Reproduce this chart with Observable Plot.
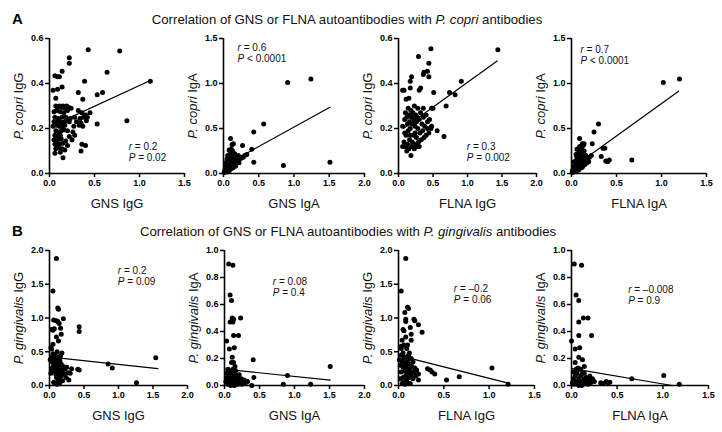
<!DOCTYPE html>
<html><head><meta charset="utf-8">
<script src="https://cdn.jsdelivr.net/npm/d3@7"></script>
<script src="https://cdn.jsdelivr.net/npm/@observablehq/plot@0.6"></script>
<style>
body{margin:0;background:#fff;}
#fig{position:relative;width:722px;height:432px;overflow:hidden;font-family:"Liberation Sans",Arial,sans-serif;color:#111;}
.panel{position:absolute;}
.letter{position:absolute;font-weight:bold;font-size:15px;line-height:16px;color:#000;}
.title{position:absolute;font-size:13.2px;line-height:16px;white-space:nowrap;transform:translateX(-50%);color:#111;}
</style></head><body><div id="fig"></div>
<script>
// ---------- DATA ----------
const titleA = ["Correlation of GNS or FLNA autoantibodies with ", "P. copri", " antibodies"];
const titleB = ["Correlation of GNS or FLNA autoantibodies with ", "P. gingivalis", " antibodies"];

// Panel A1: GNS IgG vs P. copri IgG
const a1_x = [0.43,0.78,0.22,0.22,0.64,1.12,0.39,0.59,0.53,0.32,0.37,0.86,0.53,0.45,0.40,
 0.06,0.09,0.11,0.14,0.04,0.09,0.14,0.07,
 0.07,0.09,0.11,0.13,0.15,0.17,0.19,0.21,0.24,
 0.08,0.12,0.16,0.20,0.32,0.36,0.05,
 0.06,0.10,0.14,0.18,0.23,0.28,0.34,0.38,0.42,
 0.05,0.09,0.12,0.15,0.19,0.22,0.30,0.35,0.41,
 0.04,0.08,0.11,0.14,0.17,0.27,0.33,0.37,
 0.07,0.10,0.13,0.16,0.20,0.26,
 0.06,0.09,0.12,0.22,0.28,
 0.05,0.08,0.10,0.13,0.18,0.25,
 0.06,0.09,0.11,0.15,0.20,0.36,0.40,
 0.07,0.10,0.14,0.17,0.35,
 0.06,0.12,0.15];
const a1_y = [0.55,0.545,0.515,0.49,0.45,0.41,0.41,0.36,0.35,0.36,0.33,0.235,0.22,0.27,0.26,
 0.435,0.43,0.43,0.455,0.37,0.375,0.385,0.335,
 0.30,0.295,0.30,0.295,0.30,0.29,0.30,0.295,0.29,
 0.28,0.275,0.27,0.28,0.28,0.27,0.275,
 0.25,0.245,0.25,0.25,0.245,0.25,0.245,0.25,0.25,
 0.23,0.235,0.23,0.225,0.235,0.23,0.23,0.225,0.235,
 0.21,0.215,0.21,0.205,0.215,0.21,0.215,0.21,
 0.19,0.185,0.19,0.195,0.19,0.185,
 0.17,0.165,0.17,0.165,0.17,
 0.15,0.145,0.15,0.155,0.145,0.15,
 0.13,0.125,0.13,0.135,0.125,0.13,0.125,
 0.11,0.115,0.11,0.105,0.10,
 0.09,0.095,0.07];
const a1_fitX = [0.04,1.12], a1_fitY = [0.214,0.413];

// Panel A2: GNS IgA vs P. copri IgA
const a2_x = [0.91,1.24,0.57,0.43,0.43,0.85,1.51,0.10,0.27,0.40,0.14,0.12,0.08,0.30,0.33,
 0.01,0.02,0.02,0.03,0.03,0.04,0.04,0.05,0.05,0.06,0.06,0.07,0.07,0.07,0.08,0.08,0.09,0.09,0.09,
 0.10,0.10,0.10,0.11,0.11,0.12,0.12,0.12,0.13,0.13,0.14,0.14,0.15,0.15,0.16,0.16,0.17,0.18,0.18,
 0.19,0.20,0.20,0.22,0.23,0.25,0.26,0.28,0.06,0.08,0.04,0.10,0.13,0.03,0.05,0.06,0.11,0.13,0.16,0.21,0.17,0.22];
const a2_y = [1.01,1.05,0.55,0.46,0.125,0.09,0.125,0.39,0.31,0.27,0.33,0.32,0.26,0.20,0.21,
 0.01,0.02,0.04,0.03,0.06,0.05,0.08,0.04,0.10,0.07,0.12,0.05,0.09,0.15,0.11,0.18,0.07,0.13,0.21,
 0.10,0.16,0.24,0.12,0.19,0.08,0.14,0.22,0.11,0.17,0.13,0.20,0.09,0.15,0.12,0.18,0.14,0.11,0.17,
 0.15,0.13,0.18,0.16,0.18,0.17,0.18,0.18,0.02,0.03,0.02,0.05,0.06,0.12,0.16,0.20,0.27,0.25,0.22,0.20,0.08,0.12];
const a2_fitX = [0.01,1.51], a2_fitY = [0.087,0.737];

// Panel A3: FLNA IgG vs P. copri IgG
const a3_x = [1.44,0.47,0.29,0.44,0.37,0.42,0.44,0.36,0.19,0.17,0.91,0.51,0.74,0.82,0.69,0.66,0.56,0.32,0.30,0.08,0.06,0.17,0.11,0.15,0.48,0.50,
 0.06,0.09,0.10,0.12,0.13,0.14,0.15,0.16,0.17,0.18,0.19,0.20,0.21,0.22,0.23,0.24,0.25,0.26,0.27,0.28,0.30,0.32,0.34,0.36,0.38,0.40,0.42,0.45,0.48,0.36,0.28,
 0.08,0.10,0.11,0.12,0.13,0.15,0.16,0.18,0.19,0.20,0.22,0.23,0.25,0.26,0.27,0.29,0.30,0.31,0.33,0.35,0.37,0.40,0.42,0.44,0.47,0.09,0.14,0.24,0.17,0.06];
const a3_y = [0.55,0.555,0.52,0.49,0.45,0.455,0.43,0.44,0.43,0.41,0.41,0.36,0.36,0.35,0.30,0.165,0.19,0.38,0.37,0.37,0.37,0.38,0.33,0.335,0.29,0.29,
 0.21,0.24,0.27,0.25,0.22,0.29,0.26,0.23,0.20,0.28,0.25,0.22,0.27,0.24,0.30,0.21,0.26,0.23,0.25,0.20,0.24,0.27,0.22,0.25,0.21,0.26,0.23,0.24,0.21,0.29,0.29,
 0.14,0.12,0.17,0.10,0.13,0.11,0.15,0.08,0.12,0.14,0.17,0.11,0.13,0.16,0.12,0.14,0.12,0.18,0.15,0.19,0.16,0.17,0.20,0.18,0.20,0.18,0.19,0.18,0.17,0.12];
const a3_fitX = [0.07,1.43], a3_fitY = [0.20,0.50];

// Panel A4: FLNA IgA vs P. copri IgA
const a4_x = [1.02,1.20,0.30,0.25,0.67,0.33,0.35,0.37,0.38,0.42,0.40,0.23,0.09,0.12,0.14,0.20,0.22,
 0.01,0.01,0.02,0.02,0.03,0.03,0.04,0.04,0.04,0.05,0.05,0.06,0.06,0.06,0.07,0.07,0.07,0.08,0.08,0.08,0.09,0.09,
 0.10,0.10,0.10,0.11,0.11,0.12,0.12,0.13,0.13,0.14,0.14,0.15,0.15,0.16,0.17,0.18,0.19,0.05,0.08,0.12,0.03,0.05,0.06,0.09,0.11,0.13,0.16,0.14];
const a4_y = [1.01,1.05,0.55,0.46,0.15,0.19,0.28,0.28,0.14,0.15,0.13,0.33,0.39,0.33,0.33,0.18,0.20,
 0.01,0.03,0.02,0.05,0.04,0.08,0.03,0.06,0.11,0.08,0.14,0.05,0.10,0.18,0.07,0.13,0.22,0.09,0.16,0.26,0.11,0.19,
 0.06,0.14,0.23,0.10,0.17,0.12,0.20,0.09,0.15,0.12,0.18,0.10,0.14,0.16,0.12,0.15,0.13,0.02,0.04,0.07,0.13,0.21,0.27,0.30,0.28,0.31,0.20,0.25];
const a4_fitX = [0.01,1.19], a4_fitY = [0.063,0.915];

// Panel B1: GNS IgG vs P. gingivalis IgG
const b1_x = [0.10,0.05,0.12,0.13,0.06,0.10,0.12,0.20,0.43,0.43,0.14,0.03,0.05,0.07,0.16,0.13,0.05,0.02,0.03,1.54,0.85,0.91,1.26,0.41,0.43,0.17,0.10,
 0.01,0.03,0.04,0.05,0.06,0.07,0.08,0.08,0.09,0.10,0.10,0.11,0.11,0.12,0.12,0.13,0.13,0.14,0.14,0.15,0.15,0.16,0.17,0.17,0.18,0.19,0.20,0.21,0.22,0.24,0.25,0.27,0.28,0.30,0.32,
 0.06,0.08,0.10,0.12,0.09,0.07,0.05,0.16,0.18,0.03,0.02,0.11,0.15];
const b1_y = [1.88,1.40,1.15,1.13,0.97,0.96,0.95,0.99,0.87,0.80,0.92,0.83,0.82,0.84,0.85,0.66,0.61,0.56,0.54,0.41,0.32,0.26,0.04,0.24,0.23,0.76,0.72,
 0.38,0.42,0.35,0.47,0.30,0.40,0.25,0.45,0.33,0.20,0.38,0.28,0.50,0.15,0.35,0.24,0.42,0.10,0.30,0.19,0.37,0.26,0.14,0.32,0.21,0.07,0.28,0.17,0.24,0.12,0.27,0.19,0.08,0.18,0.25,
 0.05,0.03,0.12,0.06,0.17,0.22,0.27,0.44,0.48,0.25,0.18,0.02,0.04];
const b1_fitX = [0.02,1.57], b1_fitY = [0.42,0.25];

// Panel B2: GNS IgA vs P. gingivalis IgA
const b2_x = [0.06,0.12,0.08,0.10,0.11,0.13,0.23,0.08,0.12,0.20,0.13,0.03,0.14,0.07,0.41,0.11,0.10,0.13,0.15,1.51,0.90,0.42,0.84,1.23,0.39,0.12,0.09,
 0.02,0.04,0.05,0.06,0.07,0.08,0.09,0.10,0.11,0.12,0.13,0.14,0.15,0.16,0.17,0.18,0.19,0.20,0.22,0.24,0.26,0.28,0.30,0.33,0.03,0.05,0.07,0.16,0.09,0.14,0.25,0.21];
const b2_y = [0.90,0.89,0.67,0.63,0.50,0.49,0.50,0.47,0.47,0.37,0.37,0.33,0.28,0.27,0.19,0.21,0.17,0.17,0.14,0.14,0.075,0.06,0.01,0.01,0.00,0.12,0.11,
 0.03,0.06,0.01,0.08,0.04,0.02,0.06,0.03,0.08,0.01,0.05,0.09,0.02,0.06,0.03,0.07,0.01,0.04,0.02,0.05,0.03,0.04,0.02,0.03,0.09,0.12,0.10,0.11,0.00,0.00,0.01,0.08];
const b2_fitX = [0.01,1.51], b2_fitY = [0.12,0.04];

// Panel B3: FLNA IgG vs P. gingivalis IgG
const b3_x = [0.08,0.03,0.10,0.11,0.07,0.08,0.08,0.17,0.18,0.13,0.22,0.26,0.05,0.06,0.14,0.14,0.04,0.03,0.03,1.03,1.21,0.67,0.53,0.32,0.35,0.37,0.40,0.22,0.22,0.08,0.10,
 0.01,0.02,0.03,0.03,0.04,0.05,0.05,0.05,0.06,0.06,0.07,0.07,0.08,0.08,0.09,0.09,0.10,0.10,0.11,0.11,0.12,0.12,0.13,0.13,0.14,0.14,0.15,0.16,0.16,0.17,0.18,0.19,0.20,
 0.04,0.07,0.10,0.02,0.12,0.09,0.06];
const b3_y = [1.88,1.40,1.16,1.14,1.08,0.98,0.95,0.98,0.96,0.86,0.90,0.79,0.83,0.81,0.76,0.67,0.67,0.58,0.55,0.26,0.02,0.13,0.08,0.25,0.23,0.20,0.17,0.08,0.17,0.72,0.60,
 0.38,0.30,0.45,0.20,0.35,0.12,0.27,0.48,0.40,0.05,0.22,0.33,0.15,0.42,0.28,0.08,0.37,0.19,0.25,0.45,0.12,0.32,0.03,0.22,0.40,0.16,0.28,0.10,0.35,0.20,0.26,0.14,0.23,
 0.03,0.02,0.04,0.10,0.48,0.55,0.60];
const b3_fitX = [0.02,1.21], b3_fitY = [0.44,0.035];

// Panel B4: FLNA IgA vs P. gingivalis IgA
const b4_x = [0.03,0.11,0.05,0.08,0.13,0.18,0.08,0.08,0.22,0.00,0.09,0.04,0.08,0.12,0.04,0.14,1.01,0.66,1.18,0.32,0.35,0.38,0.40,0.42,0.10,0.06,
 0.01,0.02,0.03,0.04,0.05,0.06,0.07,0.08,0.09,0.10,0.11,0.12,0.13,0.14,0.15,0.16,0.17,0.19,0.21,0.23,0.25,0.02,0.05,0.08,0.11,0.18,0.14,0.20,0.07];
const b4_y = [0.90,0.89,0.67,0.63,0.50,0.50,0.47,0.37,0.37,0.33,0.28,0.27,0.21,0.19,0.17,0.14,0.075,0.05,0.01,0.02,0.015,0.03,0.02,0.025,0.12,0.11,
 0.02,0.05,0.01,0.07,0.03,0.09,0.01,0.05,0.02,0.07,0.03,0.09,0.01,0.05,0.02,0.06,0.03,0.04,0.02,0.05,0.03,0.10,0.12,0.00,0.00,0.01,0.09,0.07,0.13];
const b4_fitX = [0.01,1.10], b4_fitY = [0.125,0.0];

const ticks15 = [0,0.5,1,1.5], ticks20 = [0,0.5,1,1.5,2], ticks06 = [0,0.2,0.4,0.6], ticks10 = [0,0.2,0.4,0.6,0.8,1.0];

// ---------- PANEL SPECS ----------
const panels = [
 {xs:a1_x, ys:a1_y, fx:a1_fitX, fy:a1_fitY, xMax:1.5, yMax:0.6, xt:ticks15, yt:ticks06, xl:"GNS IgG", yl:"P. copri IgG", r:"r = 0.2", p:"P = 0.02", ax:0.88, ay:[0.12,0.071], left:49, top:38, w:135},
 {xs:a2_x, ys:a2_y, fx:a2_fitX, fy:a2_fitY, xMax:2, yMax:1.5, xt:ticks20, yt:ticks15, xl:"GNS IgA", yl:"P. copri IgA", r:"r = 0.6", p:"P < 0.0001", ax:0.2, ay:[1.40,1.28], left:223, top:38, w:141},
 {xs:a3_x, ys:a3_y, fx:a3_fitX, fy:a3_fitY, xMax:2, yMax:0.6, xt:ticks20, yt:ticks06, xl:"FLNA IgG", yl:"P. copri IgG", r:"r = 0.3", p:"P = 0.002", ax:0.99, ay:[0.12,0.071], left:398, top:38, w:138},
 {xs:a4_x, ys:a4_y, fx:a4_fitX, fy:a4_fitY, xMax:1.5, yMax:1.5, xt:ticks15, yt:ticks15, xl:"FLNA IgA", yl:"P. copri IgA", r:"r = 0.7", p:"P < 0.0001", ax:0.1, ay:[1.38,1.25], left:571, top:38, w:135},
 {xs:b1_x, ys:b1_y, fx:b1_fitX, fy:b1_fitY, xMax:2, yMax:2, xt:ticks20, yt:ticks20, xl:"GNS IgG", yl:"P. gingivalis IgG", r:"r = 0.2", p:"P = 0.09", ax:0.99, ay:[1.70,1.54], left:49, top:250, w:138},
 {xs:b2_x, ys:b2_y, fx:b2_fitX, fy:b2_fitY, xMax:2, yMax:1, xt:ticks20, yt:ticks10, xl:"GNS IgA", yl:"P. gingivalis IgA", r:"r = 0.08", p:"P = 0.4", ax:0.69, ay:[0.77,0.69], left:224, top:250, w:140},
 {xs:b3_x, ys:b3_y, fx:b3_fitX, fy:b3_fitY, xMax:1.5, yMax:2, xt:ticks15, yt:ticks20, xl:"FLNA IgG", yl:"P. gingivalis IgG", r:"r = –0.2", p:"P = 0.06", ax:0.61, ay:[1.43,1.27], left:398, top:250, w:136},
 {xs:b4_x, ys:b4_y, fx:b4_fitX, fy:b4_fitY, xMax:1.5, yMax:1, xt:ticks15, yt:ticks10, xl:"FLNA IgA", yl:"P. gingivalis IgA", r:"r = –0.008", p:"P = 0.9", ax:0.62, ay:[0.71,0.63], left:571, top:250, w:137}
];

const FONT = '"Liberation Sans", Arial, sans-serif';
const ML = 45, MR = 12, MT = 8, MB = 40, PH = 135;
const fig = document.getElementById("fig");
const fmt = d3.format(".1f");

function italicize(svg){
  d3.select(svg).selectAll("text").each(function(){
    if (this.querySelector("tspan")) return;
    const t = this.textContent;
    const m = t.match(/^(r|P)( [=<] .+)$/) || t.match(/^(P\. \S+)( Ig[GA])$/);
    if (m) {
      const s = d3.select(this);
      s.text(null);
      s.append("tspan").attr("font-style","italic").text(m[1]);
      s.append("tspan").text(m[2]);
    }
  });
}

for (const p of panels) {
  const pts = p.xs.map((x,i) => ({x, y: p.ys[i]}));
  const fit = p.fx.map((x,i) => ({x, y: p.fy[i]}));
  const ann = [{x:p.ax, y:p.ay[0], t:p.r}, {x:p.ax, y:p.ay[1], t:p.p}];
  const svg = Plot.plot({
    width: ML + p.w + MR, height: MT + PH + MB,
    marginLeft: ML, marginRight: MR, marginTop: MT, marginBottom: MB,
    x: {domain:[0,p.xMax]}, y: {domain:[0,p.yMax]},
    style: {fontFamily: FONT, fontSize: "9px", color: "#000", background: "transparent", overflow: "visible"},
    marks: [
      Plot.axisX({ticks:p.xt, tickFormat:fmt, tickSize:4, tickPadding:2, fontWeight:"bold", fontSize:9, label:null, strokeWidth:1.5}),
      Plot.axisY({ticks:p.yt, tickFormat:fmt, tickSize:4, tickPadding:2, fontWeight:"bold", fontSize:9, label:null, strokeWidth:1.5}),
      Plot.ruleX([0], {stroke:"#000", strokeWidth:1.6}),
      Plot.ruleY([0], {stroke:"#000", strokeWidth:1.6}),
      Plot.dot(pts, {x:"x", y:"y", r:2.5, fill:"#000", stroke:null}),
      Plot.line(fit, {x:"x", y:"y", stroke:"#000", strokeWidth:1.2}),
      Plot.text(ann, {x:"x", y:"y", text:"t", textAnchor:"start", fontSize:10, fill:"#111"}),
      Plot.text([p.yl], {frameAnchor:"left", textAnchor:"middle", lineAnchor:"middle", rotate:-90, dx:-31, fontSize:13, fill:"#111"}),
      Plot.text([p.xl], {frameAnchor:"bottom", textAnchor:"middle", lineAnchor:"middle", dy:30, fontSize:13, fill:"#111"})
    ]
  });
  italicize(svg);
  const wrap = document.createElement("div");
  wrap.className = "panel";
  wrap.style.left = (p.left - ML) + "px";
  wrap.style.top = (p.top - MT) + "px";
  wrap.appendChild(svg);
  fig.appendChild(wrap);
}

function addTitle(letter, parts, cx, cy){
  const L = document.createElement("div");
  L.className = "letter"; L.textContent = letter;
  L.style.left = "12px"; L.style.top = (cy - 9) + "px";
  fig.appendChild(L);
  const T = document.createElement("div");
  T.className = "title";
  T.style.left = cx + "px"; T.style.top = (cy - 8) + "px";
  T.append(parts[0]);
  const i = document.createElement("i"); i.textContent = parts[1]; T.append(i);
  T.append(parts[2]);
  fig.appendChild(T);
}
addTitle("A", titleA, 347, 20);
addTitle("B", titleB, 348, 232);
</script>
</body></html>
